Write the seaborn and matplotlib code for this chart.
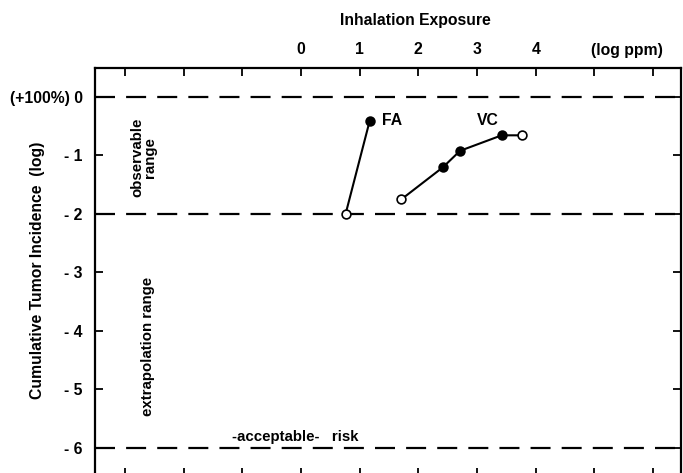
import numpy as np
import pandas as pd
import matplotlib
matplotlib.use("Agg")
import matplotlib.pyplot as plt
import seaborn as sns

# data (log ppm vs log cumulative incidence)
fa_x = [0.76, 1.17]
fa_y = [-2.0, -0.41]
fa_filled = [False, True]

vc_x = [1.71, 2.42, 2.71, 3.42, 3.76]
vc_y = [-1.75, -1.2, -0.92, -0.655, -0.655]
vc_filled = [False, True, True, True, False]

ref_levels = [0, -2, -6]
x_ticks = [-3, -2, -1, 0, 1, 2, 3, 4, 5, 6]
x_ticklabels = ["", "", "", "0", "1", "2", "3", "4", "", ""]
y_ticks = [0, -1, -2, -3, -4, -5, -6]
y_ticklabels = ["(+100%) 0", "- 1", "- 2", "- 3", "- 4", "- 5", "- 6"]

df = pd.DataFrame({
    "x": fa_x + vc_x,
    "y": fa_y + vc_y,
    "series": ["FA"] * len(fa_x) + ["VC"] * len(vc_x),
    "filled": fa_filled + vc_filled,
})

sns.set_theme(style="white")
plt.rcParams["font.family"] = ["Liberation Sans", "DejaVu Sans"]
plt.rcParams["font.weight"] = "bold"
plt.rcParams["text.color"] = "black"

FS = 11.3

fig = plt.figure(figsize=(6.83, 4.73), dpi=100)
ax = fig.add_axes([95 / 683, -3 / 473, (680.7 - 95) / 683, (476 - 68) / 473])

# reference levels
for lev in ref_levels:
    ax.axhline(lev, color="black", lw=1.6, dashes=(9, 5), zorder=1)

sns.lineplot(data=df, x="x", y="y", hue="series", palette=["black", "black"],
             sort=False, lw=1.5, legend=False, ax=ax, zorder=2)
sns.scatterplot(data=df[df["filled"]], x="x", y="y", color="black",
                edgecolor="black", s=40, linewidth=1.2, ax=ax, zorder=3)
sns.scatterplot(data=df[~df["filled"]], x="x", y="y", color="white",
                edgecolor="black", s=40, linewidth=1.2, ax=ax, zorder=3)

ax.set_xlim(-3.51, 6.47)
ax.set_ylim(-6.48, 0.496)

ax.set_xticks(x_ticks)
ax.set_xticklabels(x_ticklabels, fontsize=FS, fontweight="bold")
ax.set_yticks(y_ticks)
ax.set_yticklabels(y_ticklabels, fontsize=FS, fontweight="bold")
ax.tick_params(axis="x", top=True, bottom=True, labeltop=True, labelbottom=False,
               direction="in", length=6, width=1.3, pad=8, colors="black")
ax.tick_params(axis="y", left=True, right=True, direction="in",
               length=6, width=1.3, pad=9, colors="black")
ax.set_xlabel("")
ax.set_ylabel("")

for side in ["left", "right", "top", "bottom"]:
    ax.spines[side].set_color("black")
    ax.spines[side].set_linewidth(1.6)

# annotations
ax.text(1.38, -0.41, "FA", fontsize=FS, fontweight="bold", va="center")
ax.text(3.0, -0.41, "VC", fontsize=FS, fontweight="bold", va="center")
ax.text(-2.68, -1.03, "observable\nrange", rotation=90, fontsize=FS - 0.5,
        fontweight="bold", ha="center", va="center", linespacing=0.85)
ax.text(-2.61, -4.27, "extrapolation range", rotation=90, fontsize=FS - 0.5,
        fontweight="bold", ha="center", va="center")
ax.text(-0.1, -5.82, "-acceptable-   risk", fontsize=FS - 0.5, fontweight="bold",
        ha="center", va="center")

fig.text(627 / 683, 1 - 50 / 473, "(log ppm)", fontsize=FS, fontweight="bold",
         ha="center", va="center")
fig.text(415 / 683, 1 - 20 / 473, "Inhalation Exposure", fontsize=FS,
         fontweight="bold", ha="center", va="center")
fig.text(38 / 683, 1 - 270 / 473, "Cumulative Tumor Incidence  (log)",
         fontsize=FS, fontweight="bold", rotation=90, ha="center", va="center")

fig.savefig("out.png", dpi=100)
